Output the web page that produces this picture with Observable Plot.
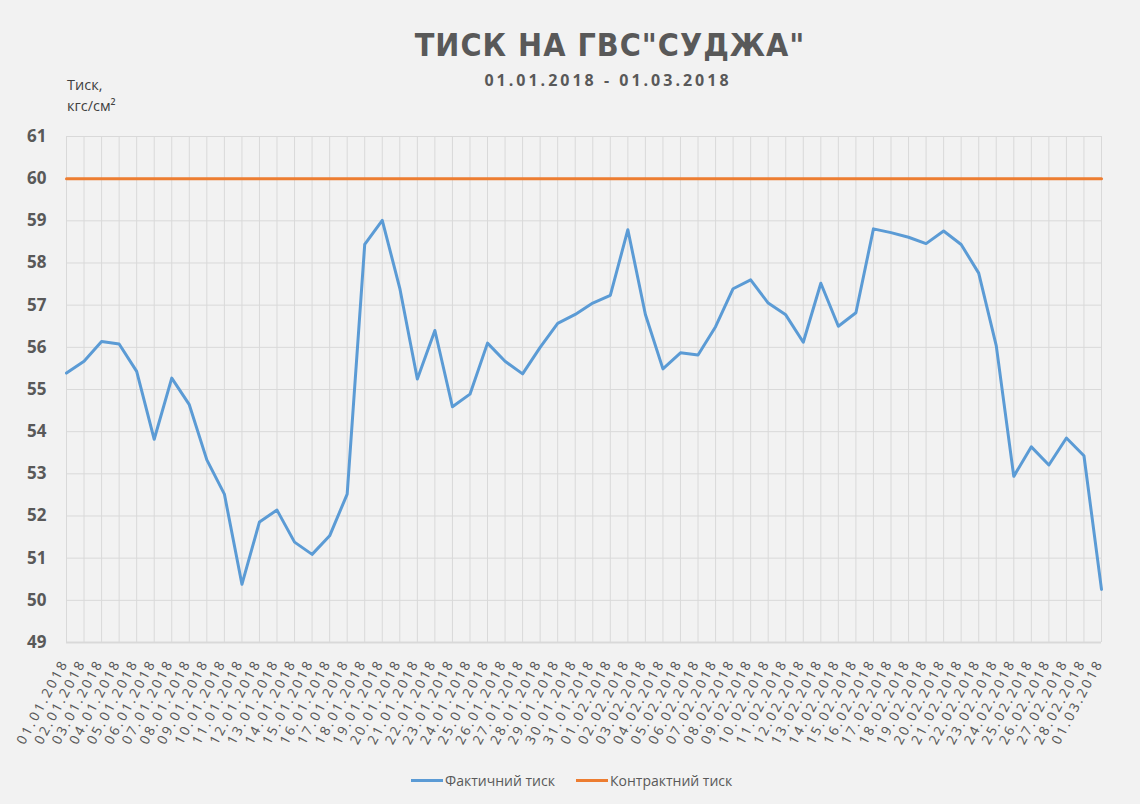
<!DOCTYPE html>
<html>
<head>
<meta charset="utf-8">
<script src="https://cdn.jsdelivr.net/npm/d3@7"></script>
<script src="https://cdn.jsdelivr.net/npm/@observablehq/plot@0.6"></script>
<style>
  html, body { margin: 0; padding: 0; background: #f2f2f2; }
  #page { position: relative; width: 1140px; height: 804px; background: #f2f2f2; overflow: hidden; }
  #title { position: absolute; left: 610px; top: 29px; transform: translateX(-50%); white-space: nowrap;
    font-family: "DejaVu Sans Condensed", "DejaVu Sans"; font-stretch: condensed; font-weight: bold; font-size: 32px; line-height: 1;
    letter-spacing: 1px; color: #595959; }
  #subtitle { position: absolute; left: 608px; top: 72px; transform: translateX(-50%); white-space: nowrap;
    font-family: "Open Sans"; font-weight: bold; font-size: 16px; line-height: 1; letter-spacing: 3px; color: #595959; }
  #ylabel { position: absolute; left: 67px; top: 74px; font-family: "Open Sans"; font-size: 14.5px; line-height: 21px; color: #404040; }
  #chart { position: absolute; left: 0; top: 110px; }
  #chart svg g[aria-label="text"] text { letter-spacing: 2.5px; }
  #legend { position: absolute; left: 0; top: 770px; width: 1140px; height: 20px; font-family: "Open Sans"; font-size: 14px; color: #595959; }
  .item { position: absolute; top: 0; display: flex; align-items: center; height: 20px; white-space: nowrap; }
  .sw { display: inline-block; width: 32px; height: 3px; margin-right: 2px; }
</style>
</head>
<body>
<div id="page">
  <div id="title">ТИСК НА ГВС"СУДЖА"</div>
  <div id="subtitle">01.01.2018 - 01.03.2018</div>
  <div id="ylabel">Тиск,<br>кгс/см²</div>
  <div id="chart"></div>
  <div id="legend">
    <div class="item" style="left:411px"><span class="sw" style="background:#5b9bd5"></span>Фактичний тиск</div>
    <div class="item" style="left:576px"><span class="sw" style="background:#ed7d31"></span>Контрактний тиск</div>
  </div>
</div>
<script>
const dates = [
  "01.01.2018","02.01.2018","03.01.2018","04.01.2018","05.01.2018","06.01.2018","07.01.2018","08.01.2018","09.01.2018","10.01.2018",
  "11.01.2018","12.01.2018","13.01.2018","14.01.2018","15.01.2018","16.01.2018","17.01.2018","18.01.2018","19.01.2018","20.01.2018",
  "21.01.2018","22.01.2018","23.01.2018","24.01.2018","25.01.2018","26.01.2018","27.01.2018","28.01.2018","29.01.2018","30.01.2018",
  "31.01.2018","01.02.2018","02.02.2018","03.02.2018","04.02.2018","05.02.2018","06.02.2018","07.02.2018","08.02.2018","09.02.2018",
  "10.02.2018","11.02.2018","12.02.2018","13.02.2018","14.02.2018","15.02.2018","16.02.2018","17.02.2018","18.02.2018","19.02.2018",
  "20.02.2018","21.02.2018","22.02.2018","23.02.2018","24.02.2018","25.02.2018","26.02.2018","27.02.2018","28.02.2018","01.03.2018"
];
const actualPressure = [
  55.39, 55.67, 56.14, 56.08, 55.43, 53.82, 55.27, 54.64, 53.33, 52.52,
  50.38, 51.86, 52.14, 51.38, 51.09, 51.53, 52.52, 58.44, 59.01, 57.40,
  55.25, 56.40, 54.59, 54.89, 56.10, 55.67, 55.37, 56.00, 56.57, 56.78,
  57.05, 57.23, 58.79, 56.78, 55.49, 55.87, 55.82, 56.49, 57.39, 57.60,
  57.05, 56.77, 56.12, 57.52, 56.50, 56.82, 58.81, 58.72, 58.61, 58.46,
  58.76, 58.44, 57.76, 56.04, 52.94, 53.64, 53.21, 53.85, 53.43, 50.26
];
const contractPressure = 60;
const yTicks = [49, 50, 51, 52, 53, 54, 55, 56, 57, 58, 59, 60, 61];

const actualRows = dates.map((d, i) => ({date: d, value: actualPressure[i]}));
const contractRows = dates.map(d => ({date: d, value: contractPressure}));

const chart = Plot.plot({
  width: 1140,
  height: 650,
  marginLeft: 66,
  marginRight: 39,
  marginTop: 26,
  marginBottom: 118,
  style: {background: "transparent", fontFamily: "Open Sans", overflow: "visible"},
  x: {type: "point", domain: dates, padding: 0, axis: null},
  y: {domain: [49, 61], axis: null},
  marks: [
    Plot.gridY(yTicks, {stroke: "#d9d9d9", strokeOpacity: 1, strokeWidth: 1}),
    Plot.gridX(dates, {stroke: "#d9d9d9", strokeOpacity: 1, strokeWidth: 1}),
    Plot.ruleY([49], {stroke: "#d9d9d9", strokeWidth: 2}),
    Plot.axisY(yTicks, {tickSize: 0, tickPadding: 20, fontSize: 17, fontWeight: "bold", fill: "#595959", label: null}),
    Plot.text(dates, {x: d => d, frameAnchor: "bottom", dy: 20, dx: 2, rotate: -62, textAnchor: "end",
      fontSize: 13.5, fontFamily: "Noto Sans", fill: "#595959"}),
    Plot.line(contractRows, {x: "date", y: "value", stroke: "#ed7d31", strokeWidth: 3}),
    Plot.line(actualRows, {x: "date", y: "value", stroke: "#5b9bd5", strokeWidth: 3, strokeLinejoin: "round"})
  ]
});
document.getElementById("chart").appendChild(chart);
</script>
</body>
</html>
